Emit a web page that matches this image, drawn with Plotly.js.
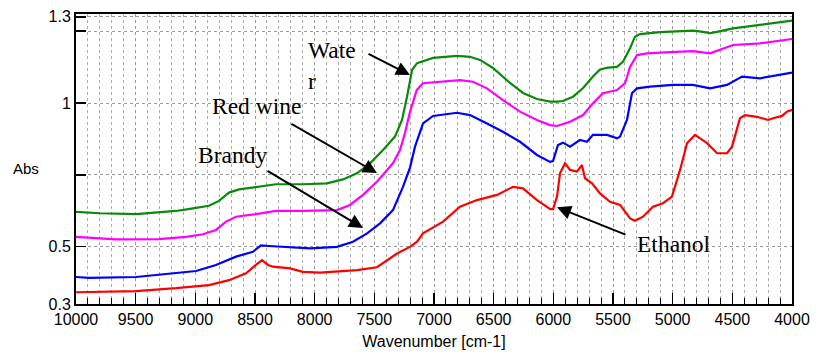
<!DOCTYPE html>
<html>
<head>
<meta charset="utf-8">
<script src="https://cdn.plot.ly/plotly-3.0.1.min.js"></script>
<style>html,body{margin:0;padding:0;background:#fff;}#chart{width:817px;height:353px;}</style>
</head>
<body>
<div id="chart"></div>
<script>
// Water (green)
const waterWn = [10000,9799,9497,9296,9162,9045,8886,8802,8718,8634,8467,8324,8098,7897,7763,7646,7536,7427,7327,7268,7226,7184,7142,7092,7008,6807,6698,6614,6506,6363,6254,6137,6028,5969,5919,5835,5751,5668,5609,5542,5466,5416,5357,5316,5274,5106,4938,4830,4746,4687,4628,4494,4268,4000];
const waterAbs = [0.621,0.616,0.613,0.619,0.624,0.631,0.642,0.659,0.688,0.699,0.708,0.717,0.717,0.720,0.734,0.755,0.790,0.836,0.883,0.941,1.022,1.115,1.139,1.146,1.157,1.164,1.161,1.150,1.122,1.070,1.035,1.014,1.005,1.005,1.007,1.022,1.052,1.092,1.117,1.123,1.126,1.144,1.191,1.231,1.240,1.247,1.250,1.252,1.248,1.243,1.248,1.260,1.272,1.287];
// Red wine (magenta)
const wineWn = [10000,9832,9665,9304,9078,8936,8827,8743,8659,8492,8324,8098,7813,7704,7595,7478,7344,7285,7243,7201,7145,7092,6975,6782,6673,6556,6422,6279,6137,6028,5969,5860,5751,5668,5584,5466,5399,5357,5299,5215,5022,4830,4687,4494,4268,4000];
const wineAbs = [0.534,0.529,0.525,0.526,0.534,0.543,0.558,0.587,0.604,0.613,0.624,0.624,0.627,0.645,0.680,0.726,0.790,0.836,0.896,0.969,1.045,1.069,1.074,1.080,1.074,1.051,1.010,0.970,0.941,0.923,0.920,0.935,0.958,0.999,1.034,1.045,1.069,1.126,1.167,1.173,1.177,1.181,1.173,1.202,1.208,1.223];
// Brandy (blue)
const brandyWn = [10000,9891,9497,9162,8994,8827,8659,8517,8450,8383,8207,8039,7813,7679,7561,7452,7344,7260,7201,7159,7092,7008,6807,6698,6556,6422,6279,6137,6028,6003,5961,5919,5860,5777,5718,5668,5550,5466,5441,5383,5341,5299,5190,4997,4830,4687,4545,4419,4268,4000];
const brandyAbs = [0.394,0.391,0.394,0.407,0.415,0.436,0.465,0.482,0.504,0.502,0.497,0.494,0.499,0.517,0.546,0.581,0.627,0.708,0.775,0.848,0.929,0.955,0.966,0.958,0.929,0.900,0.865,0.819,0.795,0.798,0.854,0.862,0.848,0.871,0.865,0.889,0.889,0.877,0.883,0.941,1.034,1.051,1.057,1.063,1.063,1.051,1.063,1.092,1.086,1.106];
// Ethanol (red)
const ethanolWn = [10000,9665,9497,9162,8886,8718,8575,8492,8441,8391,8349,8207,8098,7955,7645,7478,7394,7310,7201,7142,7092,6924,6782,6640,6472,6338,6254,6137,6028,6003,5969,5944,5902,5860,5802,5760,5735,5676,5609,5525,5441,5357,5316,5249,5165,5081,5006,4938,4880,4813,4712,4628,4545,4503,4436,4394,4293,4251,4201,4159,4084,4042,4000];
const ethanolAbs = [0.341,0.343,0.345,0.355,0.366,0.383,0.407,0.436,0.453,0.436,0.430,0.424,0.412,0.409,0.418,0.428,0.453,0.476,0.499,0.517,0.546,0.587,0.639,0.662,0.680,0.708,0.703,0.662,0.631,0.630,0.674,0.755,0.790,0.767,0.761,0.784,0.738,0.720,0.685,0.656,0.645,0.598,0.590,0.604,0.639,0.651,0.674,0.767,0.860,0.889,0.860,0.825,0.825,0.848,0.947,0.958,0.952,0.947,0.941,0.947,0.955,0.970,0.976];

const yTickVals = [0.3,0.5,0.75,1,1.25,1.3];
const yTickText = ['0.3','0.5','','1','','1.3'];

const traces = [
  {x: waterWn, y: waterAbs, color: '#0a8a0a'},
  {x: wineWn, y: wineAbs, color: '#ff00ff'},
  {x: brandyWn, y: brandyAbs, color: '#0000ff'},
  {x: ethanolWn, y: ethanolAbs, color: '#ff0000'}
].map(s => ({x: s.x, y: s.y, type: 'scatter', mode: 'lines', line: {color: s.color, width: 2.2}, hoverinfo: 'skip'}));

const serif = {family: 'Liberation Serif, Times New Roman, serif', size: 23.5, color: '#000'};
function label(text, px, py) {
  return {text: text, xref: 'paper', yref: 'paper', x: (px - 76) / 716, y: (304 - py) / 290,
          xanchor: 'left', yanchor: 'middle', align: 'left', showarrow: false, font: serif};
}
function arrow(x, y, ax, ay) {
  return {text: '', x: x, y: y, xref: 'x', yref: 'y', ax: ax, ay: ay, showarrow: true,
          arrowhead: 2, arrowsize: 1.4, arrowwidth: 2, arrowcolor: '#000'};
}

const layout = {
  width: 817, height: 353,
  margin: {l: 76, r: 25, t: 14, b: 49},
  paper_bgcolor: '#fff', plot_bgcolor: '#fff',
  showlegend: false,
  font: {family: 'Liberation Sans, Arial, sans-serif', size: 16, color: '#000'},
  xaxis: {
    range: [10000, 4000], tickmode: 'linear', tick0: 4000, dtick: 500, tickformat: 'd',
    ticks: 'inside', ticklen: 11, tickwidth: 1.5, tickcolor: '#000',
    showgrid: true, gridcolor: '#999', griddash: 'dot', gridwidth: 1,
    minor: {dtick: 100, tick0: 4000, ticks: 'inside', ticklen: 6, tickcolor: '#000', tickwidth: 1,
            showgrid: true, gridcolor: '#aaa', griddash: 'dot', gridwidth: 1},
    showline: true, linecolor: '#000', linewidth: 2, mirror: true,
    zeroline: false, tickfont: {size: 16},
    title: {text: 'Wavenumber [cm-1]', font: {size: 16}, standoff: 9}
  },
  yaxis: {
    range: [0.3, 1.31], tickmode: 'array', tickvals: yTickVals, ticktext: yTickText,
    ticks: 'inside', ticklen: 10, tickwidth: 1.5, tickcolor: '#000',
    showgrid: true, gridcolor: '#999', griddash: 'dot', gridwidth: 1,
    showline: true, linecolor: '#000', linewidth: 2, mirror: true,
    zeroline: false, tickfont: {size: 16}
  },
  annotations: [
    {text: 'Abs', xref: 'paper', yref: 'paper', x: (26 - 76) / 716, y: (304 - 168) / 290,
     xanchor: 'center', yanchor: 'middle', showarrow: false,
     font: {family: 'Liberation Sans, Arial, sans-serif', size: 15, color: '#000'}},
    label('Wate<br>r', 306, 65),
    label('Red wine', 210, 106),
    label('Brandy', 196, 155),
    label('Ethanol', 635, 244),
    arrow(7201, 1.0975, -43, -22),
    arrow(7478, 0.756, -87, -50),
    arrow(7595, 0.565, -97, -58),
    arrow(5969, 0.637, 70, 28)
  ]
};

Plotly.newPlot('chart', traces, layout, {staticPlot: true, displayModeBar: false});
</script>
</body>
</html>
